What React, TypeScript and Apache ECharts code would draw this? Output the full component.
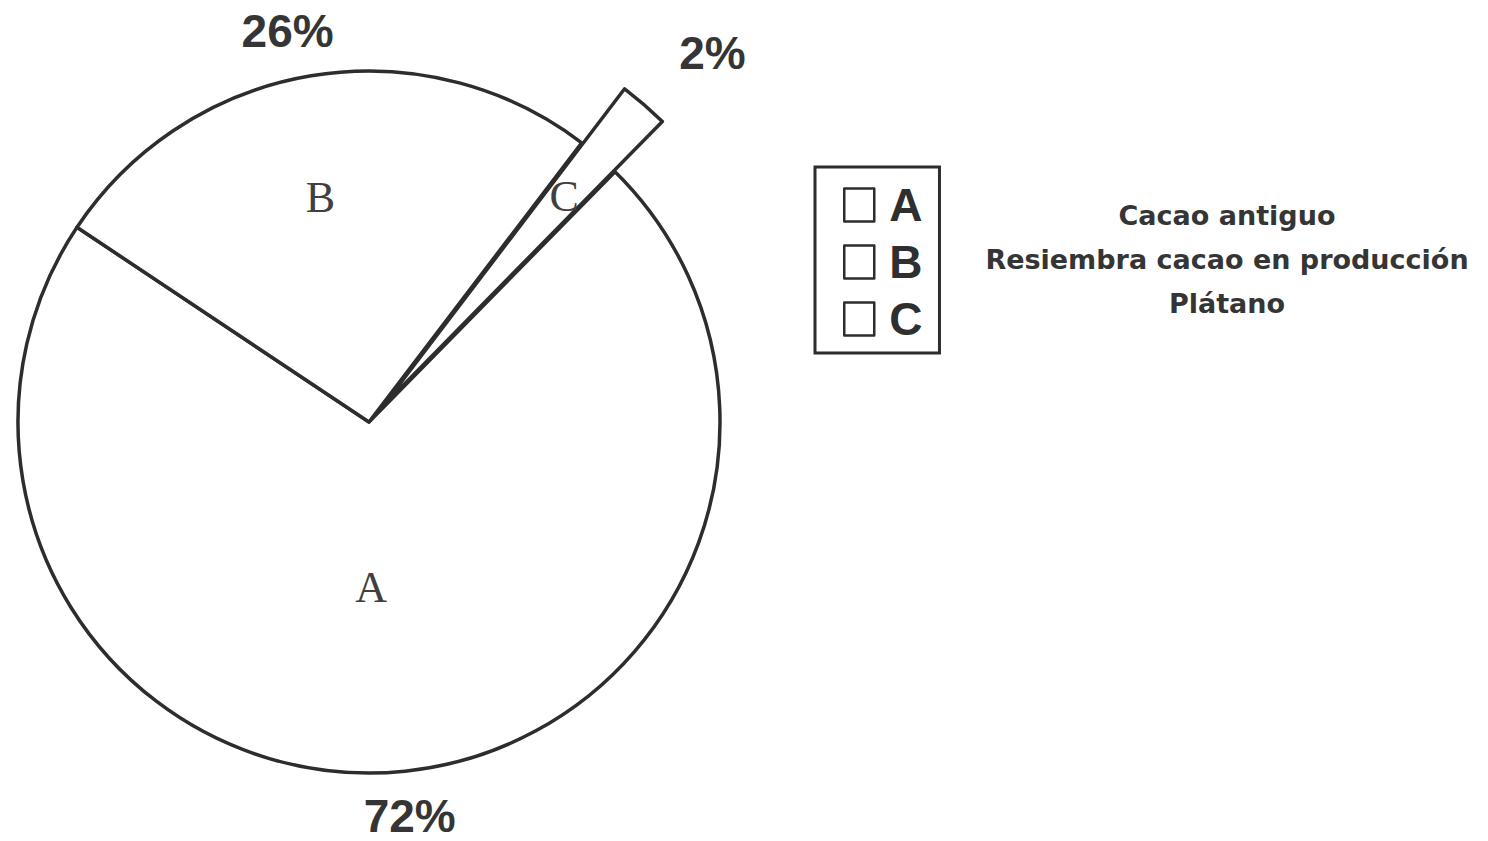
import React, { useEffect, useRef } from 'react';
import * as echarts from 'echarts';

// Data
const categories = ['A', 'B', 'C'];
const shares = [72, 26, 2];
const descriptions = ['Cacao antiguo', 'Resiembra cacao en producción', 'Plátano'];

export default function App() {
  const ref = useRef<HTMLDivElement>(null);

  useEffect(() => {
    const chart = echarts.init(ref.current as HTMLDivElement, null, { renderer: 'svg' });
    const line = '#2d2d2d';
    const clear = 'rgba(0,0,0,0)';
    const center = [369, 422];
    const startAngle = 45.5;
    const solid = { color: '#ffffff', borderColor: line, borderWidth: 3.5 };
    const hidden = { color: clear, borderWidth: 0 };

    const mainData = categories.map((name, i) => ({
      name,
      value: shares[i],
      itemStyle: name === 'C' ? hidden : solid,
    }));

    const explodedData = categories.map((name, i) => ({
      name,
      value: shares[i],
      selected: name === 'C',
      itemStyle: name === 'C' ? solid : hidden,
      select: { itemStyle: name === 'C' ? solid : hidden },
    }));

    // letters drawn by two transparent layers (A near the centre, B and C further out)
    const innerLetterData = categories.map((name, i) => ({
      name,
      value: shares[i],
      label: { show: name === 'A', padding: [0, 30, 0, 0] },
    }));
    const outerLetterPadding: Record<string, number[]> = {
      A: [0, 0, 0, 0],
      B: [0, 22, 0, 0],
      C: [0, 0, 0, 0],
    };
    const outerLetterData = categories.map((name, i) => ({
      name,
      value: shares[i],
      selected: name === 'C',
      label: { show: name !== 'A', padding: outerLetterPadding[name] },
      select: { label: { show: name !== 'A' } },
    }));

    const pctPadding: Record<string, number[]> = {
      A: [0, 0, 0, 0],
      B: [0, 32, 0, 0],
      C: [0, 0, 0, 48],
    };
    const pctData = categories.map((name, i) => ({
      name,
      value: shares[i],
      selected: name === 'C',
      label: { padding: pctPadding[name] },
    }));

    const common = {
      type: 'pie',
      center,
      startAngle,
      clockwise: true,
      avoidLabelOverlap: false,
      silent: true,
      emphasis: { disabled: true },
      labelLine: { show: false },
    };

    const letterLabel = {
      show: true,
      position: 'inner',
      formatter: '{b}',
      fontFamily: 'Liberation Serif',
      fontSize: 44,
      color: '#404040',
    };

    chart.setOption({
      animation: false,
      backgroundColor: '#ffffff',
      legend: {
        data: categories,
        orient: 'vertical',
        left: 815,
        top: 167,
        padding: [15, 17, 11, 28],
        borderColor: line,
        borderWidth: 3,
        icon: 'rect',
        itemWidth: 30,
        itemHeight: 33,
        itemGap: 11,
        selectedMode: false,
        itemStyle: { color: '#ffffff', borderColor: line, borderWidth: 2.5 },
        textStyle: {
          fontFamily: 'Liberation Sans',
          fontWeight: 'bold',
          fontSize: 46,
          color: '#2f2f2f',
          padding: [0, 0, 0, 10],
        },
      },
      graphic: descriptions.map((text, i) => ({
        type: 'text',
        x: 1227,
        y: 215 + i * 44,
        style: {
          text,
          textAlign: 'center',
          textVerticalAlign: 'middle',
          fontFamily: 'DejaVu Sans',
          fontWeight: 'bold',
          fontSize: 27,
          fill: '#353535',
        },
      })),
      series: [
        {
          ...common,
          name: 'main',
          radius: 351,
          label: { show: false },
          data: mainData,
        },
        {
          ...common,
          name: 'exploded',
          radius: 398,
          selectedMode: 'single',
          selectedOffset: 22,
          label: { show: false },
          data: explodedData,
        },
        {
          ...common,
          name: 'letters-inner',
          radius: [0, 326],
          itemStyle: hidden,
          label: letterLabel,
          data: innerLetterData,
        },
        {
          ...common,
          name: 'letters-outer',
          radius: [0, 450],
          selectedMode: 'single',
          selectedOffset: 70,
          itemStyle: hidden,
          select: { itemStyle: hidden },
          label: letterLabel,
          data: outerLetterData,
        },
        {
          ...common,
          name: 'percent',
          radius: [353, 433],
          selectedMode: 'single',
          selectedOffset: 92,
          itemStyle: hidden,
          select: {
            itemStyle: hidden,
            label: { show: true },
          },
          label: {
            show: true,
            position: 'inner',
            formatter: '{c}%',
            fontFamily: 'Liberation Sans',
            fontWeight: 'bold',
            fontSize: 46,
            color: '#353535',
          },
          data: pctData,
        },
      ],
    });

    return () => {
      chart.dispose();
    };
  }, []);

  return (
    <div
      ref={ref}
      style={{ position: 'absolute', left: 0, top: 0, width: 1488, height: 841, background: '#ffffff' }}
    />
  );
}
